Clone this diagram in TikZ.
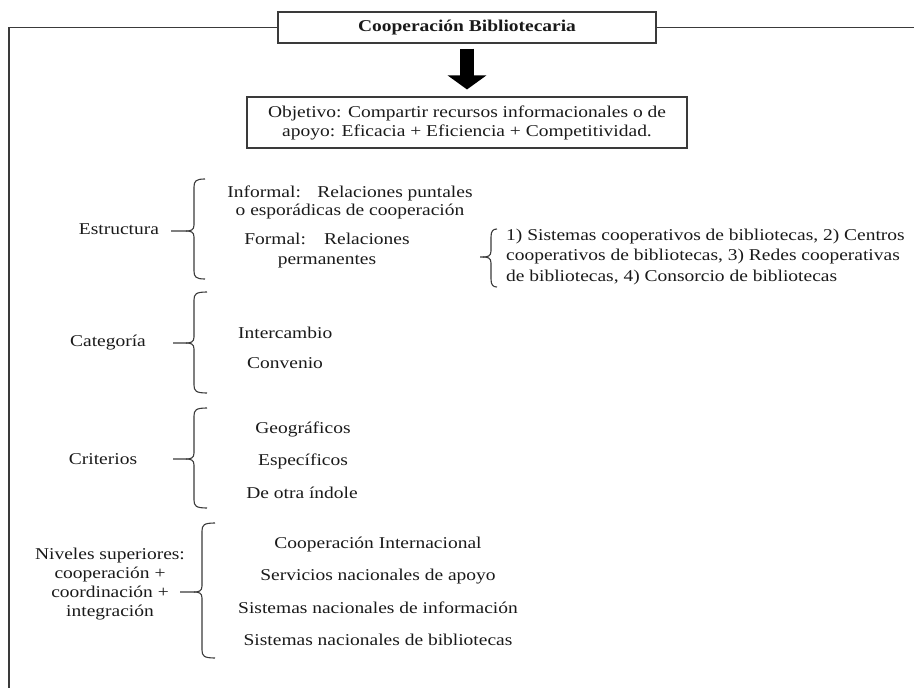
\documentclass[tikz,border=0pt]{standalone}
\usepackage{fontspec}
\setmainfont[FakeStretch=1.18]{Liberation Serif}
\usetikzlibrary{arrows.meta}
\definecolor{linegray}{HTML}{3A3A3A}
\definecolor{txtcol}{HTML}{1A1A1A}
\newcommand\brc[6]{% x, top, tip y, bottom, tip x, hook
  \draw[bracestyle] (#1+#6,#2) .. controls (#1+2,#2) and (#1,#2+2) .. (#1,#2+8) -- (#1,#3-6)
     .. controls (#1,#3-1) and (#1-3,#3) .. (#1-8,#3) -- (#5,#3);
  \draw[bracestyle] (#1+#6,#4) .. controls (#1+2,#4) and (#1,#4-2) .. (#1,#4-8) -- (#1,#3+6)
     .. controls (#1,#3+1) and (#1-3,#3) .. (#1-8,#3);
}
\begin{document}
\begin{tikzpicture}[x=1pt,y=-1pt,
  font=\fontsize{16.5}{19}\selectfont,
  txt/.style={inner sep=0pt, text=txtcol},
  boxstyle/.style={draw=linegray, line width=1.1pt, text=txtcol, inner sep=0pt},
  frame/.style={draw=linegray, line width=1.3pt},
  bracestyle/.style={draw=linegray, line width=1.1pt},
  blockarrow/.style={draw=black, line width=14pt, -{Triangle[width=38pt,length=14pt]}, shorten <=5pt, shorten >=7pt}]
\useasboundingbox (0,0) rectangle (914,688);

% title and frame
\node[boxstyle, minimum width=378pt, minimum height=31pt, font=\fontsize{16.5}{19}\selectfont\bfseries] (title) at (467,27.5) {Cooperación Bibliotecaria};
\coordinate (fBL) at (9,688);
\coordinate (fR) at (914,27.5);
\draw[frame] (title.west) -| (fBL);
\draw[frame] (title.east) -- (fR);

% objective
\node[boxstyle, minimum width=440pt, minimum height=51pt, align=center] (obj) at (467,122.5)
  {Objetivo: Compartir recursos informacionales o de\\apoyo: Eficacia + Eficiencia + Competitividad.};
\draw[blockarrow] (title.south) -- (obj.north);

% Estructura
\node[txt] (estr) at (119,229) {Estructura};
\brc{194}{179}{231}{279}{171}{11}
\node[txt, align=center, font=\fontsize{16.5}{18}\selectfont] (informal) at (350,202) {Informal:\hspace{1.0em}Relaciones puntales\\o esporádicas de cooperación};
\node[txt, align=center, font=\fontsize{16.5}{20}\selectfont] (formal) at (327,251) {Formal:\hspace{1.1em}Relaciones\\permanentes};
\brc{491}{229}{257}{287}{480}{6}
\node[txt, align=left, anchor=west, font=\fontsize{16.5}{20.5}\selectfont] (tipos) at (506,257)
  {1) Sistemas cooperativos de bibliotecas, 2) Centros\\cooperativos de bibliotecas, 3) Redes cooperativas\\de bibliotecas, 4) Consorcio de bibliotecas};

% Categoria
\node[txt] (cat) at (108,343) {Categoría};
\brc{194}{292}{343}{393}{173}{13}
\node[txt, anchor=west] (inter) at (238,333) {Intercambio};
\node[txt, anchor=west] (conv) at (247,363) {Convenio};

% Criterios
\node[txt] (crit) at (103,459) {Criterios};
\brc{194}{408}{459}{508}{173}{13}
\node[txt] (geo) at (303,429) {Geográficos};
\node[txt] (esp) at (303,461) {Específicos};
\node[txt] (otra) at (302,493) {De otra índole};

% Niveles
\node[txt, align=center] (niv) at (110,584.5) {Niveles superiores:\\cooperación +\\coordinación +\\integración};
\brc{202}{523}{592}{658}{180}{13}
\node[txt] (n1) at (378,545) {Cooperación Internacional};
\node[txt] (n2) at (378,577) {Servicios nacionales de apoyo};
\node[txt] (n3) at (378,608) {Sistemas nacionales de información};
\node[txt] (n4) at (378,640) {Sistemas nacionales de bibliotecas};
\end{tikzpicture}
\end{document}
